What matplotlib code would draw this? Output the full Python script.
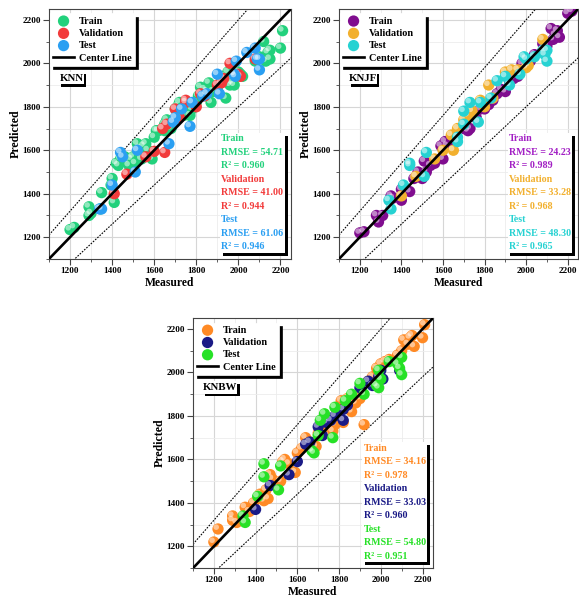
import matplotlib
matplotlib.use('Agg')
import matplotlib.pyplot as plt
from matplotlib.ticker import MultipleLocator
from matplotlib.transforms import offset_copy
from matplotlib.patches import Rectangle
from matplotlib.lines import Line2D

plt.rcParams['font.family'] = ['Liberation Serif', 'DejaVu Serif']
plt.rcParams['font.weight'] = 'bold'

# ---------------- data ----------------
# KNN
knn_train_x = [1200, 1220, 1290, 1290, 1300, 1350, 1345, 1410, 1400, 1395, 1420, 1430, 1440,
               1460, 1470, 1480, 1490, 1500, 1510, 1520, 1530, 1540, 1550, 1560, 1570, 1580,
               1590, 1600, 1610, 1620, 1640, 1650, 1660, 1650, 1680, 1700, 1710, 1720, 1740,
               1750, 1770, 1780, 1800, 1810, 1820, 1840, 1850, 1860, 1870, 1880, 1900, 1920,
               1930, 1940, 1950, 1960, 1970, 1980, 2000, 2010, 2020, 2080, 2100, 2120, 2130,
               2140, 2150, 2150, 2200, 2210]
knn_train_y = [1235, 1245, 1340, 1300, 1310, 1405, 1330, 1360, 1470, 1440, 1540, 1530, 1560,
               1570, 1550, 1530, 1560, 1570, 1540, 1630, 1610, 1560, 1620, 1630, 1600, 1570,
               1560, 1660, 1690, 1690, 1700, 1720, 1740, 1690, 1700, 1790, 1800, 1820, 1760,
               1800, 1760, 1790, 1820, 1850, 1890, 1880, 1870, 1910, 1820, 1870, 1880, 1920,
               1940, 1840, 1960, 1900, 1910, 1900, 1960, 1950, 1940, 2010, 2030, 2100, 2010,
               2050, 2060, 2020, 2070, 2150]
knn_val_x = [1410, 1470, 1560, 1600, 1650, 1640, 1660, 1700, 1720, 1750, 1800, 1820, 1840,
             1900, 1920, 1930, 1960, 2000, 2010, 2080, 1750]
knn_val_y = [1400, 1490, 1570, 1595, 1590, 1700, 1720, 1790, 1750, 1830, 1800, 1860, 1850,
             1900, 1910, 1930, 2000, 1950, 1940, 2020, 1820]
knn_test_x = [1340, 1350, 1400, 1440, 1450, 1510, 1520, 1670, 1690, 1700, 1730, 1770, 1780,
              1830, 1850, 1900, 1910, 1980, 1990, 2040, 2080, 2090, 2100, 2100, 1985]
knn_test_y = [1330, 1330, 1440, 1590, 1570, 1500, 1600, 1630, 1730, 1750, 1790, 1710, 1820,
              1850, 1860, 1950, 1860, 1950, 2010, 2050, 2070, 2020, 1970, 2020, 1940]

# KNJF
knjf_train_x = [1200, 1220, 1280, 1290, 1310, 1350, 1360, 1400, 1400, 1440, 1460, 1480, 1500,
                1510, 1520, 1540, 1560, 1590, 1600, 1610, 1620, 1640, 1660, 1700, 1720, 1730,
                1740, 1760, 1780, 1800, 1820, 1840, 1860, 1880, 1900, 1920, 1940, 1960, 1980,
                2000, 2020, 2040, 2080, 2100, 2120, 2130, 2140, 2150, 2160, 2200, 2220]
knjf_train_y = [1220, 1225, 1300, 1270, 1300, 1390, 1380, 1370, 1420, 1410, 1470, 1500, 1470,
                1550, 1500, 1530, 1540, 1620, 1560, 1640, 1620, 1660, 1640, 1700, 1690, 1700,
                1760, 1750, 1790, 1790, 1810, 1830, 1860, 1880, 1870, 1920, 1930, 1940, 2000,
                1990, 2010, 2040, 2090, 2080, 2160, 2110, 2130, 2150, 2120, 2230, 2240]
knjf_val_x = [1400, 1470, 1560, 1600, 1650, 1640, 1670, 1700, 1720, 1740, 1780, 1800, 1820,
              1840, 1900, 1930, 1960, 2000, 2010, 2080]
knjf_val_y = [1390, 1480, 1560, 1600, 1600, 1670, 1700, 1740, 1760, 1780, 1830, 1800, 1900,
              1840, 1960, 1970, 1970, 1980, 1990, 2110]
knjf_test_x = [1340, 1350, 1410, 1440, 1440, 1510, 1520, 1670, 1670, 1700, 1700, 1730, 1770,
               1780, 1830, 1860, 1900, 1920, 1970, 1990, 2000, 2040, 2080, 2090, 2100, 2100]
knjf_test_y = [1370, 1330, 1440, 1540, 1530, 1480, 1590, 1640, 1660, 1720, 1780, 1820, 1730,
               1820, 1840, 1920, 1940, 1900, 1950, 2030, 2020, 2030, 2060, 2040, 2010, 2060]

# KNBW
knbw_train_x = [1200, 1220, 1290, 1290, 1310, 1350, 1370, 1390, 1420, 1440, 1450, 1460, 1470,
                1480, 1520, 1530, 1540, 1560, 1590, 1600, 1620, 1640, 1660, 1690, 1700, 1720,
                1740, 1770, 1780, 1800, 1810, 1820, 1840, 1860, 1880, 1900, 1910, 1920, 1940,
                1960, 1980, 2000, 2020, 2040, 2080, 2100, 2110, 2130, 2140, 2150, 2160, 2200,
                2210]
knbw_train_y = [1220, 1280, 1340, 1320, 1310, 1380, 1360, 1400, 1440, 1410, 1460, 1420, 1530,
                1510, 1500, 1590, 1600, 1580, 1540, 1630, 1650, 1700, 1680, 1660, 1720, 1740,
                1760, 1730, 1760, 1790, 1870, 1770, 1880, 1820, 1860, 1880, 1900, 1760, 1960,
                1980, 2020, 2040, 2050, 2060, 2080, 2100, 2150, 2130, 2160, 2170, 2120, 2160,
                2220]
knbw_val_x = [1400, 1470, 1560, 1600, 1640, 1660, 1700, 1720, 1740, 1760, 1780, 1820, 1820,
              1840, 1900, 1940, 1960, 1990, 2000, 2010, 2090]
knbw_val_y = [1370, 1480, 1530, 1590, 1670, 1680, 1750, 1710, 1770, 1780, 1800, 1780, 1830,
              1850, 1930, 1960, 1940, 1980, 2010, 1970, 2010]
knbw_test_x = [1340, 1350, 1410, 1440, 1440, 1510, 1520, 1670, 1680, 1700, 1710, 1730, 1770,
               1780, 1830, 1860, 1900, 1920, 1980, 1990, 1990, 2000, 2040, 2080, 2090, 2100,
               2100]
knbw_test_y = [1340, 1310, 1430, 1580, 1520, 1460, 1570, 1640, 1630, 1710, 1780, 1810, 1700,
               1840, 1870, 1900, 1950, 1900, 1940, 2010, 1930, 1970, 2050, 2040, 2020, 1990,
               2070]

series_names = ['Train', 'Validation', 'Test']
knn_stats = [('54.71', '0.960'), ('41.00', '0.944'), ('61.06', '0.946')]
knjf_stats = [('24.23', '0.989'), ('33.28', '0.968'), ('48.30', '0.965')]
knbw_stats = [('34.16', '0.978'), ('33.03', '0.960'), ('54.80', '0.951')]

knn_colors = ['#22d17c', '#f23b3b', '#2a9ff2']
knjf_colors = ['#800d8f', '#f2b02e', '#26d2d2']
knbw_colors = ['#ff8a25', '#1a1a86', '#26e126']
knjf_text_colors = ['#a21fc4', '#f2b02e', '#26d2d2']

lims = (1100, 2250)


def balls(ax, x, y, color, label):
    # fake 3D sphere: base dot + light highlight shifted up-left
    h = ax.scatter(x, y, s=66, color=color, edgecolors='none', label=label, zorder=3)
    tr = offset_copy(ax.transData, fig=ax.figure, x=-1.3, y=1.3, units='points')
    ax.scatter(x, y, s=16, color='white', alpha=0.5, edgecolors='none', transform=tr, zorder=3)
    return h


def shadow_box(ax, x0, y0, w, h, z=6, dx=0.012, dy=0.012):
    ax.add_patch(Rectangle((x0 + dx, y0 - dy), w, h, transform=ax.transAxes,
                           facecolor='black', edgecolor='none', zorder=z - 1))
    ax.add_patch(Rectangle((x0, y0), w, h, transform=ax.transAxes,
                           facecolor='white', edgecolor='none', zorder=z))


def make_panel(ax, name, name_w, data, colors, text_colors, stats):
    ax.set_xlim(lims)
    ax.set_ylim(lims)
    ax.xaxis.set_major_locator(MultipleLocator(200))
    ax.yaxis.set_major_locator(MultipleLocator(200))
    ax.xaxis.set_minor_locator(MultipleLocator(100))
    ax.yaxis.set_minor_locator(MultipleLocator(100))
    ax.grid(which='major', color='#d6d6d6', lw=0.8, zorder=0)
    ax.grid(which='minor', color='#ececec', lw=0.6, zorder=0)
    ax.set_axisbelow(True)
    for s in ax.spines.values():
        s.set_color('#444444')
        s.set_linewidth(0.8)
    ax.tick_params(which='major', length=4, width=0.8, color='#444444', labelsize=6.6, pad=2)
    ax.tick_params(which='minor', length=2, width=0.6, color='#444444')

    xx = [lims[0], lims[1]]
    ax.plot(xx, [v * 1.1 for v in xx], color='black', lw=0.8, ls=(0, (1.5, 1.2)), zorder=2)
    ax.plot(xx, [v * 0.9 for v in xx], color='black', lw=0.8, ls=(0, (1.5, 1.2)), zorder=2)

    handles = []
    for (x, y), c, lab in zip(data, colors, series_names):
        handles.append(balls(ax, x, y, c, lab))
    ax.plot(xx, xx, color='black', lw=1.9, zorder=4)
    handles.append(Line2D([], [], color='black', lw=1.9, label='Center Line'))

    leg = ax.legend(handles=handles, loc='upper left', bbox_to_anchor=(0.005, 0.982),
                    prop={'size': 7.4, 'weight': 'bold'}, frameon=True, fancybox=False,
                    shadow={'color': 'black', 'alpha': 1, 'ox': 2.2, 'oy': -2.2},
                    handlelength=2.0, handletextpad=0.5, labelspacing=0.3,
                    borderpad=0.3, borderaxespad=0.0, framealpha=1)
    leg.get_frame().set_edgecolor('white')
    leg.get_frame().set_linewidth(0.5)
    leg.set_zorder(7)

    # model name tag
    shadow_box(ax, 0.04, 0.698, name_w, 0.05, z=8, dx=0.01, dy=0.01)
    ax.text(0.04 + name_w / 2, 0.723, name, transform=ax.transAxes, fontsize=7.8,
            fontweight='bold', ha='center', va='center', zorder=9)

    # stats box
    shadow_box(ax, 0.705, 0.025, 0.27, 0.48, z=6)
    lines = []
    for (rmse, r2), tc, lab in zip(stats, text_colors, series_names):
        lines += [(lab, tc), ('RMSE = ' + rmse, tc), ('R\u00b2 = ' + r2, tc)]
    for i, (txt, tc) in enumerate(lines):
        ax.text(0.712, 0.48 - i * 0.054, txt, transform=ax.transAxes, color=tc,
                fontsize=7.2, fontweight='bold', ha='left', va='center', zorder=8)

    ax.set_xlabel('Measured', fontsize=8.4, fontweight='bold', labelpad=1)
    ax.set_ylabel('Predicted', fontsize=8.6, fontweight='bold', labelpad=0.5)


fig = plt.figure(figsize=(5.79, 5.98), dpi=100)
ax1 = fig.add_axes([0.0846, 0.567, 0.418, 0.418])
ax2 = fig.add_axes([0.5855, 0.567, 0.413, 0.418])
ax3 = fig.add_axes([0.3333, 0.050, 0.4145, 0.418])

make_panel(ax1, 'KNN', 0.105,
           [(knn_train_x, knn_train_y), (knn_val_x, knn_val_y), (knn_test_x, knn_test_y)],
           knn_colors, knn_colors, knn_stats)
make_panel(ax2, 'KNJF', 0.118,
           [(knjf_train_x, knjf_train_y), (knjf_val_x, knjf_val_y), (knjf_test_x, knjf_test_y)],
           knjf_colors, knjf_text_colors, knjf_stats)
make_panel(ax3, 'KNBW', 0.145,
           [(knbw_train_x, knbw_train_y), (knbw_val_x, knbw_val_y), (knbw_test_x, knbw_test_y)],
           knbw_colors, knbw_colors, knbw_stats)

fig.savefig('out.png', dpi=100)
